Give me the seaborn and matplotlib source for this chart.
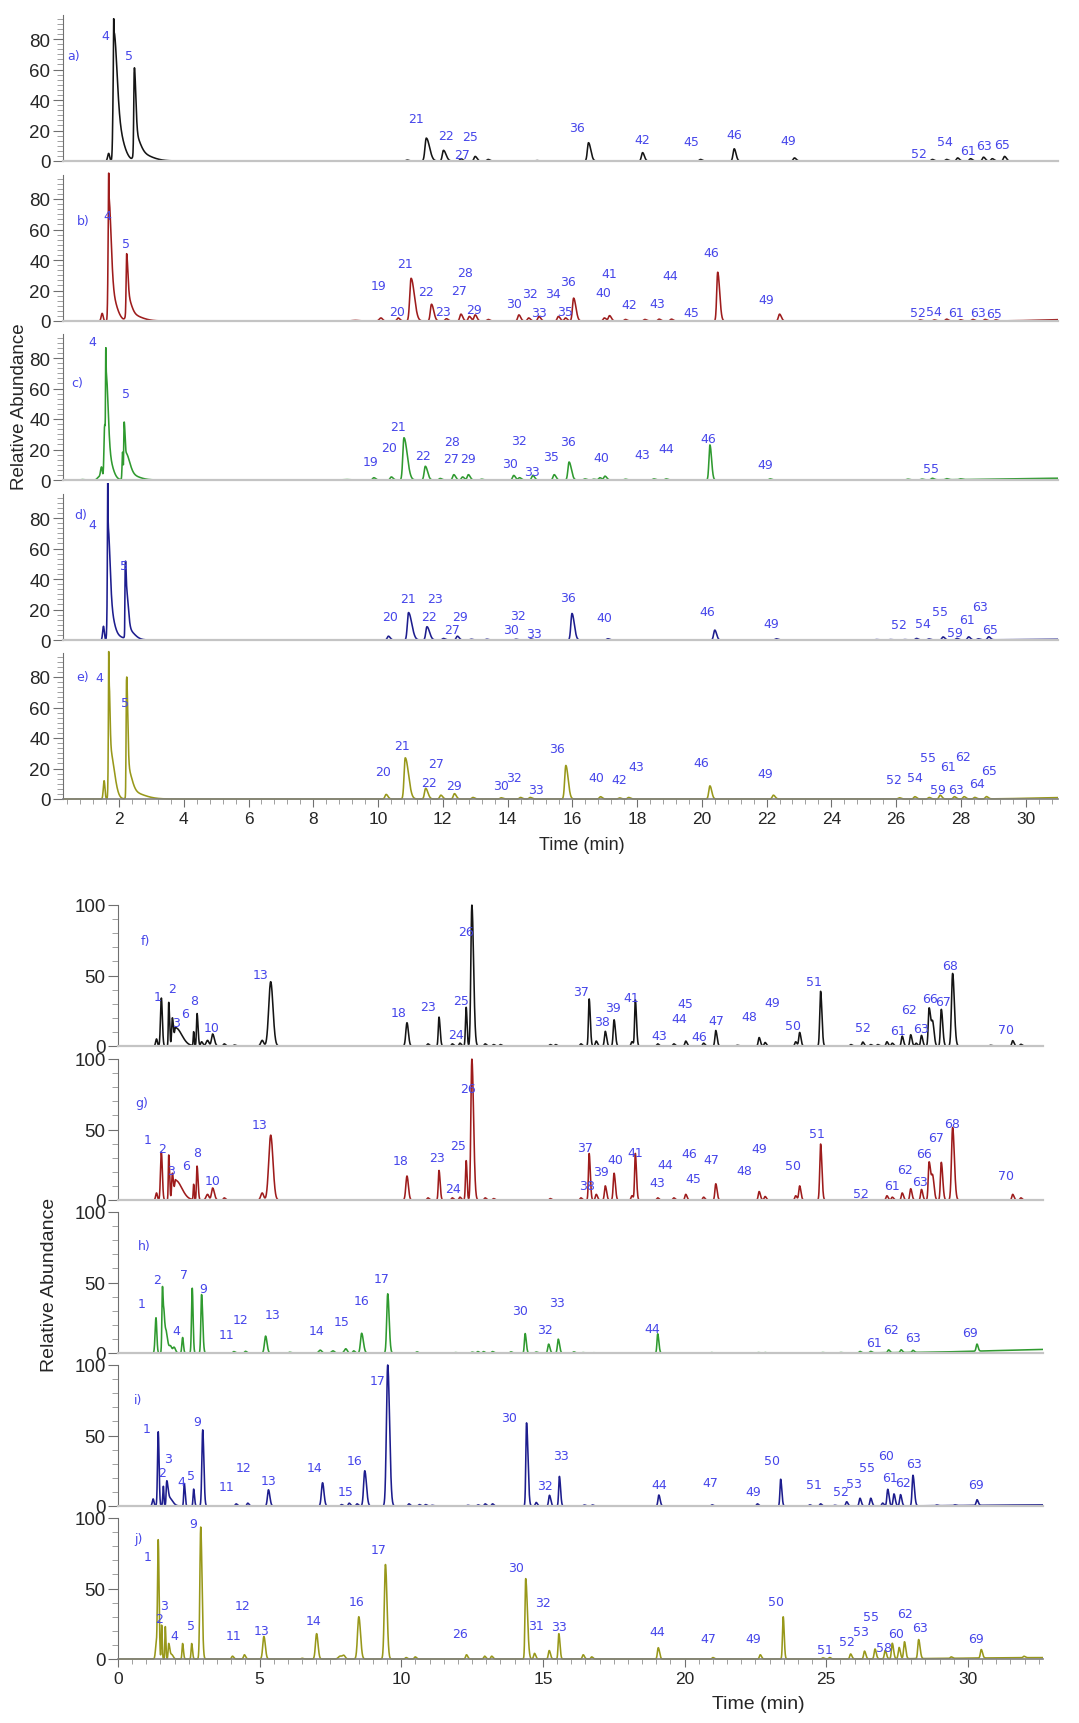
import numpy as np
import pandas as pd
import matplotlib
matplotlib.use("Agg")
import matplotlib.pyplot as plt
from matplotlib.ticker import MultipleLocator, FixedLocator, AutoMinorLocator
import seaborn as sns

# ---- peak tables: (rt min, height %, sigma left, sigma right) ----
peaks_a = [(1.68, 5, .03, .03), (1.835, 18, .006, .006), (1.84, 55, .025, .09), (1.86, 30, .03, .21),
           (2.47, 44, .015, .045), (2.48, 12, .02, .15), (2.50, 6, .05, .4),
           (10.9, 0.6), (11.49, 15, .04, .1), (12.02, 7, .035, .08), (12.56, 1.5), (13.0, 3), (13.4, 1),
           (14.9, 0.3), (16.5, 12, .035, .07), (18.17, 5.5), (19.96, 1), (21.0, 8), (22.86, 2),
           (27.12, 1), (27.56, 1), (27.9, 2), (28.3, 1.5), (28.7, 2.5), (28.97, 1.5), (29.35, 3)]
peaks_b = [(1.48, 5, .03, .03), (1.68, 21, .006, .006), (1.68, 60, .02, .07), (1.70, 22, .025, .18),
           (2.23, 28, .012, .04), (2.24, 12, .02, .12), (2.26, 5, .05, .35),
           (9.3, 0.4, .1, .1), (10.09, 2, .05, .05), (10.62, 2), (11.02, 28, .04, .1), (11.65, 11, .035, .07),
           (12.11, 1.5), (12.56, 4.5), (12.82, 3), (13.0, 4), (13.4, 1),
           (14.35, 4), (14.65, 2), (14.97, 3), (15.57, 3), (15.79, 2), (16.04, 15, .035, .07),
           (16.99, 2), (17.15, 3.5), (17.64, 1), (18.24, 1), (18.68, 1.2), (19.06, 1.2),
           (20.49, 32, .03, .06), (22.4, 4.5),
           (26.74, 0.7), (27.18, 0.7), (27.56, 1.2), (27.99, 0.8), (28.37, 1), (28.75, 1), (29.08, 0.7),
           (31.5, 1.0, 1.0, 1.0)]
peaks_c = [(0.85, 0.3), (1.38, 2, .05, .05), (1.46, 8, .03, .03),
           (1.555, 35, .02, .02), (1.60, 50, .015, .06), (1.61, 20, .02, .15), (1.59, 26, .006, .006),
           (2.11, 18, .015, .015), (2.155, 32, .01, .025), (2.20, 14, .03, .12), (2.25, 4, .05, .3),
           (9.0, 0.3, .1, .1), (9.87, 1.5), (10.41, 2), (10.8, 27.7, .035, .1), (11.46, 9, .035, .07),
           (11.92, 1), (12.34, 3.5), (12.61, 2), (12.79, 3.5), (13.2, 0.5),
           (14.19, 3), (14.37, 1.5), (14.78, 3), (15.44, 3.5), (15.9, 11.8, .035, .07),
           (16.39, 0.7), (16.66, 0.5), (16.85, 1.5), (17.01, 2.5), (17.64, 0.5), (18.52, 0.7), (18.9, 0.7),
           (20.25, 23, .03, .05), (22.11, 0.7),
           (26.36, 0.5), (26.8, 0.5), (27.12, 1), (27.56, 0.7), (27.99, 0.5),
           (31.5, 1.2, 2.0, 1.0)]
peaks_d = [(1.52, 9, .025, .025), (1.65, 40, .007, .007), (1.655, 50, .018, .06), (1.67, 22, .02, .13),
           (1.70, 4, .05, .3),
           (2.19, 36, .008, .02), (2.22, 26, .02, .06), (2.25, 7, .04, .2),
           (10.32, 2.5), (10.94, 18, .035, .1), (11.51, 8.7, .035, .08), (12.02, 1), (12.45, 2.5),
           (12.88, 0.5), (13.36, 0.5),
           (14.26, 0.5), (14.72, 0.7), (15.99, 17.4, .035, .07), (17.1, 0.8), (20.4, 6.5), (22.3, 0.8),
           (25.38, .3), (25.81, .3), (26.25, .3), (26.63, 1), (27.01, .7), (27.45, 2), (27.88, 1),
           (28.24, 2), (28.54, .7), (28.86, 2),
           (31.5, 0.5, 1.5, 1.0)]
peaks_e = [(1.54, 12, .025, .025), (1.68, 30, .006, .006), (1.685, 55, .015, .03), (1.72, 32, .03, .13),
           (2.23, 66, .012, .035), (2.25, 16, .02, .13), (2.30, 5, .05, .4),
           (10.25, 3), (10.84, 27, .035, .1), (11.47, 7, .035, .07), (11.94, 2.5), (12.36, 3.5),
           (12.93, 1), (13.8, 0.8), (14.4, 1), (14.7, 1),
           (15.8, 22, .035, .07), (16.87, 1.5), (17.46, 0.7), (17.74, 1), (20.25, 8.6), (22.21, 2.5),
           (26.1, 0.8), (26.58, 1.5), (27.02, 1), (27.36, 2.5), (27.8, 1.5), (28.1, 1.5), (28.43, 1),
           (28.79, 1.5),
           (31.5, 1.0, 1.2, 1.0)]

peaks_f = [(1.36, 5, .03, .03), (1.53, 34, .03, .035), (1.79, 31, .015, .03), (1.92, 20, .025, .04),
           (2.03, 13, .03, .22),
           (2.67, 10, .015, .02), (2.79, 23, .02, .035), (2.95, 3), (3.16, 4, .05, .05),
           (3.34, 8.5, .04, .06), (3.75, 1.5), (4.11, 0.7),
           (5.09, 4, .05, .05), (5.39, 45.6, .07, .08),
           (10.2, 16.5, .04, .05), (10.94, 1.5), (11.33, 20.5, .025, .04), (11.8, 1.5), (12.07, 2),
           (12.29, 27.5, .025, .03), (12.49, 100, .035, .06),
           (12.96, 1.5), (13.26, 1), (13.5, 1),
           (15.26, 1), (15.45, 1), (16.34, 1.5), (16.63, 33.4, .025, .04), (16.88, 3.5), (17.2, 10.4),
           (17.51, 18.6), (18.14, 3), (18.26, 32.7, .025, .04),
           (19.05, 1.5), (19.62, 1.5), (20.04, 3.5), (20.67, 2), (21.1, 11), (21.86, 0.5), (22.63, 6),
           (22.84, 2.5), (23.92, 3), (24.06, 9.6), (24.8, 38.8),
           (25.87, 1), (26.29, 2.8), (26.57, 1), (26.82, 1), (27.14, 3), (27.33, 2), (27.68, 7),
           (27.98, 8), (28.17, 2), (28.36, 7.5),
           (28.63, 27, .03, .06), (28.76, 15, .04, .05), (29.06, 26, .03, .05), (29.46, 51.5, .04, .06),
           (30.8, 0.5), (31.58, 3.8), (31.87, 1.2)]
peaks_g = [(1.36, 5, .03, .03), (1.53, 34, .03, .035), (1.79, 32, .015, .03), (1.92, 19, .025, .04),
           (2.03, 14, .03, .22),
           (2.67, 11, .015, .02), (2.79, 24, .02, .035), (3.16, 4, .05, .05), (3.34, 8.5, .04, .06),
           (3.75, 1.5),
           (5.09, 5, .05, .05), (5.39, 46, .07, .08),
           (10.2, 17, .04, .05), (10.94, 1.5), (11.33, 21, .025, .04), (11.8, 1.5), (12.07, 2),
           (12.29, 28, .025, .03), (12.49, 100, .035, .06),
           (12.96, 1.5), (13.26, 1),
           (15.26, 1), (16.34, 1.5), (16.63, 33, .025, .04), (16.88, 4), (17.2, 10), (17.51, 19),
           (18.14, 3), (18.26, 33, .025, .04),
           (19.05, 1.5), (19.62, 1.5), (20.04, 4), (20.67, 2), (21.1, 11.5), (22.63, 6), (22.84, 2.5),
           (23.92, 3), (24.06, 10), (24.8, 39.7),
           (26.25, 0.5), (27.14, 3), (27.33, 2), (27.68, 5), (27.98, 8), (28.36, 7.5),
           (28.63, 27, .03, .06), (28.76, 15, .04, .05), (29.06, 26.7, .03, .05), (29.46, 51.5, .04, .06),
           (31.58, 4), (31.87, 1.5)]
peaks_h = [(1.34, 25, .03, .03), (1.57, 47, .02, .03), (1.63, 22, .02, .04), (1.71, 12, .03, .05),
           (1.85, 5, .05, .05), (1.98, 4, .04, .05),
           (2.28, 11, .025, .03), (2.62, 46, .025, .03), (2.95, 41.5, .025, .04),
           (4.09, 1), (4.5, 1.2), (5.21, 12, .04, .05), (6.06, 0.5),
           (7.14, 2, .05, .05), (7.59, 1.5, .05, .05), (8.04, 3, .05, .05), (8.32, 1.5),
           (8.6, 14, .04, .06), (9.52, 42, .035, .05),
           (10.55, 0.8), (11.9, 0.3), (12.5, 0.6), (12.7, 1), (12.9, 1), (13.22, 1), (13.87, 0.8),
           (14.37, 13.8, .025, .04), (14.76, 0.7), (15.2, 6.3), (15.54, 9.8), (16.09, 0.8), (16.4, 0.3),
           (16.78, 0.2),
           (19.05, 13.6, .025, .04), (20.95, 0.3), (22.59, 0.3), (22.84, 0.3), (24.86, 0.3), (25.5, 0.3),
           (26.19, 1), (26.57, 1), (27.2, 2), (27.64, 2), (28.06, 1.5),
           (30.32, 5, .03, .04), (34.0, 2.8, 3.0, 1.0)]
peaks_i = [(1.24, 5, .03, .03), (1.42, 52.7, .025, .03), (1.6, 14, .02, .02), (1.72, 17, .02, .04),
           (1.8, 6, .04, .12),
           (2.34, 16, .02, .03), (2.67, 12, .02, .03), (2.99, 54, .03, .04),
           (4.17, 1.5), (4.58, 2), (5.31, 11.5, .035, .05),
           (7.22, 16.5, .04, .05), (7.89, 1), (8.16, 2), (8.44, 1.5), (8.71, 25, .04, .06),
           (9.52, 100, .045, .065),
           (10.27, 1.5), (10.64, 1), (10.86, 1), (11.09, 0.5), (12.35, 0.5), (12.71, 0.8), (12.96, 1.5),
           (13.22, 1.5),
           (14.42, 59, .025, .05), (14.76, 2.5), (15.23, 7.6), (15.58, 21, .025, .04), (16.46, 0.7),
           (16.75, 0.7),
           (19.09, 7.8), (20.97, 0.8), (22.57, 1.5), (23.39, 19, .025, .04),
           (24.42, 0.8), (24.8, 1.5), (25.3, 0.5), (25.72, 3), (26.19, 5.5), (26.57, 5.5), (26.99, 2),
           (27.17, 11.8), (27.39, 8.5), (27.62, 8), (28.06, 21.7, .03, .05),
           (28.9, 0.5), (29.54, 0.5), (30.32, 4), (33.0, 0.8, 2.5, 1.0)]
peaks_j = [(1.35, 10, .03, .03), (1.42, 84, .025, .03), (1.54, 24, .015, .02), (1.67, 23, .015, .02),
           (1.79, 11, .02, .04), (1.9, 3, .04, .05),
           (2.28, 11, .02, .03), (2.6, 11, .02, .03), (2.92, 93.6, .03, .045),
           (4.04, 2), (4.46, 3), (5.15, 16, .04, .05), (6.5, 0.5),
           (7.01, 18, .04, .05), (7.84, 2, .06, .06), (7.97, 2.5, .05, .05), (8.5, 30, .045, .06),
           (9.44, 67, .04, .055),
           (10.17, 1), (10.49, 1.5), (12.3, 3), (12.94, 2), (13.19, 2),
           (14.39, 57, .025, .06), (14.7, 4), (15.22, 6), (15.56, 18, .025, .04), (16.42, 3), (16.72, 1.5),
           (19.07, 8), (21.0, 1), (22.67, 3), (23.48, 30, .025, .035),
           (24.88, 0.8), (25.12, 1), (25.86, 3.5), (26.35, 5.5), (26.72, 7), (27.08, 6), (27.33, 11),
           (27.57, 8), (27.76, 12), (28.26, 13.5, .03, .05),
           (29.41, 1), (30.47, 6), (31.98, 1), (33.0, 1.0, 3.0, 1.0)]

# ---- peak numbers (text, rt, height) ----
labels_a = [("a)", 0.61, 69), ("4", 1.59, 82), ("5", 2.31, 69), ("21", 11.17, 28), ("22", 12.1, 17),
            ("27", 12.61, 4), ("25", 12.85, 16), ("36", 16.15, 22), ("42", 18.16, 14), ("45", 19.67, 13),
            ("46", 20.99, 17.5), ("49", 22.68, 13.5), ("52", 26.71, 4.8), ("54", 27.5, 13),
            ("61", 28.21, 7), ("63", 28.71, 10), ("65", 29.26, 11)]
labels_b = [("b)", 0.90, 66), ("4", 1.65, 69), ("5", 2.23, 51), ("19", 10.03, 23), ("20", 10.59, 6.5),
            ("21", 10.82, 37.5), ("22", 11.47, 19.6), ("23", 12.02, 6.5), ("27", 12.5, 20), ("28", 12.68, 31.6),
            ("29", 12.95, 7.6), ("30", 14.2, 11.5), ("32", 14.7, 18), ("33", 14.98, 5.4), ("34", 15.41, 18),
            ("35", 15.77, 6), ("36", 15.88, 26), ("40", 16.96, 18.5), ("41", 17.15, 31), ("42", 17.77, 10.5),
            ("43", 18.62, 11.3), ("44", 19.03, 30), ("45", 19.69, 5.4), ("46", 20.29, 44.7), ("49", 22.0, 14),
            ("52", 26.66, 5.4), ("54", 27.18, 6), ("61", 27.86, 5.4), ("63", 28.54, 5.4), ("65", 29.03, 5)]
labels_c = [("c)", 0.72, 64), ("4", 1.19, 91), ("5", 2.23, 57), ("19", 9.77, 12), ("20", 10.35, 21),
            ("21", 10.61, 35), ("22", 11.39, 16), ("27", 12.24, 14), ("28", 12.3, 25.5), ("29", 12.79, 14),
            ("30", 14.08, 11), ("32", 14.35, 26), ("33", 14.75, 5.4), ("35", 15.33, 15.7), ("36", 15.87, 25),
            ("40", 16.9, 15), ("43", 18.16, 17), ("44", 18.89, 20.7), ("46", 20.2, 27), ("49", 21.97, 10),
            ("55", 27.07, 7.6)]
labels_d = [("d)", 0.81, 82), ("4", 1.16, 76), ("5", 2.14, 49), ("20", 10.38, 15.7), ("21", 10.91, 27),
            ("22", 11.58, 15.7), ("23", 11.77, 27), ("27", 12.29, 7), ("29", 12.54, 15.7), ("30", 14.1, 7),
            ("32", 14.31, 16), ("33", 14.8, 4), ("36", 15.87, 28), ("40", 16.99, 14.6), ("46", 20.17, 19),
            ("49", 22.13, 11), ("52", 26.09, 10), ("54", 26.83, 11), ("55", 27.37, 19), ("59", 27.82, 4.8),
            ("61", 28.18, 13.5), ("63", 28.59, 22), ("65", 28.89, 7)]
labels_e = [("e)", 0.86, 80), ("4", 1.39, 80), ("5", 2.17, 63), ("20", 10.14, 18), ("21", 10.75, 35),
            ("22", 11.58, 11), ("27", 11.79, 23), ("29", 12.34, 8.6), ("30", 13.8, 8.6), ("32", 14.2, 14),
            ("33", 14.87, 6), ("36", 15.54, 33), ("40", 16.75, 14), ("42", 17.46, 12.5), ("43", 17.97, 21),
            ("46", 19.97, 24), ("49", 21.96, 17), ("52", 25.92, 13), ("54", 26.58, 14), ("55", 26.98, 27),
            ("59", 27.3, 6), ("61", 27.6, 21), ("62", 28.08, 28), ("63", 27.85, 6), ("64", 28.5, 10),
            ("65", 28.86, 19)]
labels_f = [("f)", 0.96, 75), ("1", 1.4, 35), ("2", 1.92, 40.5), ("3", 2.04, 16.5), ("6", 2.38, 23),
            ("8", 2.67, 32), ("10", 3.29, 13), ("13", 5.03, 51), ("18", 9.91, 24), ("23", 10.94, 28),
            ("24", 11.92, 8), ("25", 12.1, 32), ("26", 12.29, 81), ("37", 16.36, 39), ("38", 17.07, 17.6),
            ("39", 17.47, 27), ("41", 18.11, 34.6), ("43", 19.09, 7.5), ("44", 19.81, 19.8), ("45", 20.03, 30),
            ("46", 20.53, 6.8), ("47", 21.11, 18), ("48", 22.3, 21), ("49", 23.1, 30.6), ("50", 23.83, 14.6),
            ("51", 24.55, 45.6), ("52", 26.28, 13), ("61", 27.54, 11), ("62", 27.92, 25.6), ("63", 28.34, 12.7),
            ("66", 28.65, 34), ("67", 29.13, 31.5), ("68", 29.37, 57), ("70", 31.34, 11.5)]
labels_g = [("g)", 0.82, 69), ("1", 1.06, 43), ("2", 1.55, 36.6), ("3", 1.88, 20.8), ("6", 2.4, 24.8),
            ("8", 2.79, 33.8), ("10", 3.34, 13.7), ("13", 4.99, 53.4), ("18", 9.97, 28), ("23", 11.27, 30),
            ("24", 11.82, 8.3), ("25", 12.0, 38.5), ("26", 12.35, 79), ("37", 16.49, 37), ("38", 16.57, 10),
            ("39", 17.03, 20), ("40", 17.56, 29), ("41", 18.27, 34), ("43", 19.05, 12.5), ("44", 19.31, 25.5),
            ("45", 20.32, 15), ("46", 20.15, 33), ("47", 20.95, 28.6), ("48", 22.12, 20.8), ("49", 22.63, 36.6),
            ("50", 23.83, 24.8), ("51", 24.67, 47.5), ("52", 26.21, 4.3), ("61", 27.33, 10), ("62", 27.79, 21.5),
            ("63", 28.31, 13), ("66", 28.46, 33), ("67", 28.88, 44), ("68", 29.45, 54.6), ("70", 31.34, 17.3)]
labels_h = [("h)", 0.94, 76), ("1", 0.82, 35), ("2", 1.37, 52), ("4", 2.07, 15.7), ("7", 2.34, 56),
            ("9", 3.01, 46), ("11", 3.84, 13), ("12", 4.32, 24), ("13", 5.45, 27), ("14", 7.0, 15.7),
            ("15", 7.89, 22), ("16", 8.6, 37), ("17", 9.3, 53), ("30", 14.18, 30), ("32", 15.08, 16.4),
            ("33", 15.48, 35.6), ("44", 18.86, 17.6), ("61", 26.7, 7.5), ("62", 27.29, 16.4), ("63", 28.06, 11),
            ("69", 30.08, 14.5)]
labels_i = [("i)", 0.7, 75.7), ("1", 1.02, 55), ("2", 1.55, 23.6), ("3", 1.76, 33.6), ("4", 2.24, 17.7),
            ("5", 2.56, 21.7), ("9", 2.81, 59.6), ("11", 3.84, 13.7), ("12", 4.44, 27), ("13", 5.33, 18),
            ("14", 6.92, 27), ("15", 8.04, 10.6), ("16", 8.36, 32), ("17", 9.17, 88.7), ("30", 13.81, 63),
            ("32", 15.08, 14.7), ("33", 15.64, 36), ("44", 19.12, 15.4), ("47", 20.91, 17), ("49", 22.43, 10),
            ("50", 23.07, 32.4), ("51", 24.57, 15.4), ("52", 25.52, 10), ("53", 25.96, 15.8), ("55", 26.44, 27),
            ("60", 27.1, 35.5), ("61", 27.26, 20), ("62", 27.71, 16.5), ("63", 28.11, 30), ("69", 30.27, 15)]
labels_j = [("j)", 0.74, 85.7), ("1", 1.03, 73), ("2", 1.45, 29), ("3", 1.64, 38), ("4", 1.99, 17),
            ("5", 2.57, 24), ("9", 2.65, 96.4), ("11", 4.09, 16.7), ("12", 4.41, 37.6), ("13", 5.07, 20),
            ("14", 6.91, 27), ("16", 8.41, 41), ("17", 9.19, 78), ("26", 12.08, 18), ("30", 14.04, 65),
            ("31", 14.75, 24), ("32", 15.0, 40), ("33", 15.56, 23), ("44", 19.04, 19.5), ("47", 20.83, 14.3),
            ("49", 22.43, 14.3), ("50", 23.21, 40.5), ("51", 24.95, 6.7), ("52", 25.74, 12.4), ("53", 26.23, 19.8),
            ("55", 26.59, 29.8), ("58", 27.03, 8.3), ("60", 27.45, 17.9), ("62", 27.77, 32.6), ("63", 28.31, 22.6),
            ("69", 30.27, 14.3)]

top_peaks = [peaks_a, peaks_b, peaks_c, peaks_d, peaks_e]
top_labels = [labels_a, labels_b, labels_c, labels_d, labels_e]
bot_peaks = [peaks_f, peaks_g, peaks_h, peaks_i, peaks_j]
bot_labels = [labels_f, labels_g, labels_h, labels_i, labels_j]
trace_colors = ["#151515", "#9e1c1c", "#2f9a2f", "#1d1d8e", "#98981a"]
label_color = "#4646ea"

W, H = 1079, 1724


def chromatogram(t, peaks, wl, wr):
    y = np.zeros_like(t)
    for p in peaks:
        rt, h = p[0], p[1]
        sl = p[2] if len(p) > 2 else wl
        sr = p[3] if len(p) > 3 else wr
        s = np.where(t < rt, sl, sr)
        y += h * np.exp(-0.5 * ((t - rt) / s) ** 2)
    return y


def rect(left, top, width, height):
    return [left / W, 1 - (top + height) / H, width / W, height / H]


sns.set_style("ticks")
plt.rcParams["font.family"] = ["Liberation Sans", "DejaVu Sans"]
narrow = ["Liberation Sans Narrow", "Liberation Sans", "DejaVu Sans"]

fig = plt.figure(figsize=(W / 100, H / 100), dpi=100)


def draw_group(peaks_list, labels_list, zeros, left, right, xlim, ylim, px_per_unit,
               spine_top, ytick_major, ytick_minor, wl, wr, ytick_font, xtick_major, xtick_minor):
    t = np.linspace(xlim[0] + 0.03, xlim[1], 7000)
    axes = []
    for k, (peaks, labels, z) in enumerate(zip(peaks_list, labels_list, zeros)):
        h_px = (ylim[1] - ylim[0]) * px_per_unit
        top = z + (-ylim[0]) * px_per_unit - h_px
        ax = fig.add_axes(rect(left, top, right - left, h_px))
        df = pd.DataFrame({"time": t, "abundance": chromatogram(t, peaks, wl, wr)})
        sns.lineplot(data=df, x="time", y="abundance", ax=ax, color=trace_colors[k],
                     linewidth=1.15, estimator=None, errorbar=None, sort=False)
        for txt, x, y in labels:
            ax.text(x, y, txt, color=label_color, fontsize=9, ha="center", va="center",
                    family="DejaVu Sans")
        ax.set_xlim(*xlim)
        ax.set_ylim(*ylim)
        ax.set_xlabel("")
        ax.set_ylabel("")
        ax.patch.set_alpha(0)
        for s in ["top", "right"]:
            ax.spines[s].set_visible(False)
        ax.spines["left"].set_bounds(0, spine_top)
        ax.spines["left"].set_color("#707070")
        ax.spines["bottom"].set_position(("data", 0))
        ax.yaxis.set_major_locator(FixedLocator(ytick_major))
        ax.yaxis.set_minor_locator(FixedLocator(ytick_minor))
        ax.tick_params(axis="y", which="major", length=7, color="#707070", labelsize=ytick_font[1],
                       pad=2)
        ax.tick_params(axis="y", which="minor", length=4, color="#909090")
        for lab in ax.get_yticklabels():
            lab.set_family(ytick_font[0])
        last = k == len(zeros) - 1
        if last:
            ax.spines["bottom"].set_color("#808080")
            ax.spines["bottom"].set_linewidth(1.2)
            ax.xaxis.set_major_locator(MultipleLocator(xtick_major))
            ax.xaxis.set_minor_locator(AutoMinorLocator(xtick_minor))
            ax.tick_params(axis="x", which="major", length=6, color="#707070", labelsize=12.5, pad=3)
            ax.tick_params(axis="x", which="minor", length=3.5, color="#909090")
            for lab in ax.get_xticklabels():
                lab.set_family(narrow)
        else:
            ax.spines["bottom"].set_color("#c4c4c4")
            ax.spines["bottom"].set_linewidth(1.6)
            ax.tick_params(axis="x", which="both", bottom=False, labelbottom=False)
        ax.set_zorder(10 - k)
        axes.append(ax)
    return axes


# ---- top group a-e ----
draw_group(top_peaks, top_labels, zeros=[162, 322, 481, 641, 800], left=63, right=1058,
           xlim=(0.27, 31.0), ylim=(-1.5, 103), px_per_unit=1.525, spine_top=96,
           ytick_major=[0, 20, 40, 60, 80], ytick_minor=list(np.arange(0, 96, 20 / 6)),
           wl=0.035, wr=0.055, ytick_font=(narrow, 13.5), xtick_major=2, xtick_minor=5)

# ---- bottom group f-j ----
draw_group(bot_peaks, bot_labels, zeros=[1047, 1201, 1354, 1507, 1660], left=118, right=1043,
           xlim=(0.0, 32.65), ylim=(-2, 107), px_per_unit=1.41, spine_top=100,
           ytick_major=[0, 50, 100], ytick_minor=list(range(0, 101, 10)),
           wl=0.03, wr=0.045, ytick_font=(["Liberation Sans", "DejaVu Sans"], 13.5),
           xtick_major=5, xtick_minor=10)

fig.text(20 / W, 1 - 407 / H, "Relative Abundance", rotation=90, ha="center", va="center",
         fontsize=13.5, family=narrow)
fig.text(582 / W, 1 - 846 / H, "Time (min)", ha="center", va="center", fontsize=13, family=narrow)
fig.text(50 / W, 1 - 1285 / H, "Relative Abundance", rotation=90, ha="center", va="center",
         fontsize=14, family=["Liberation Sans", "DejaVu Sans"])
fig.text(758 / W, 1 - 1705 / H, "Time (min)", ha="center", va="center", fontsize=14, family=narrow)

fig.savefig("out.png", dpi=100)
